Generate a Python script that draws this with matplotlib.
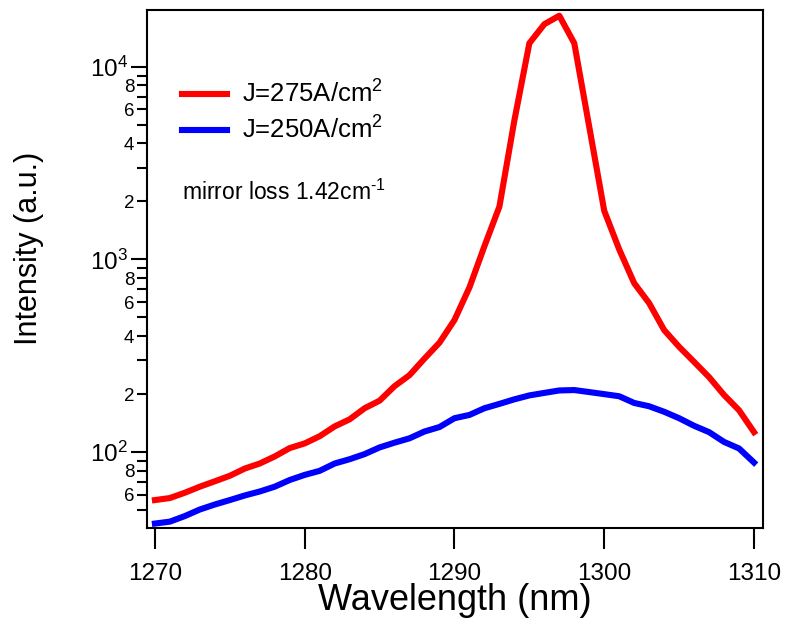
import matplotlib
matplotlib.use("Agg")
import matplotlib.pyplot as plt
import matplotlib.ticker as mticker
import numpy as np

plt.rcParams['font.family'] = ['Liberation Sans', 'DejaVu Sans']
plt.rcParams['mathtext.fontset'] = 'custom'
plt.rcParams['mathtext.rm'] = 'Liberation Sans'
plt.rcParams['mathtext.it'] = 'Liberation Sans:italic'
plt.rcParams['mathtext.bf'] = 'Liberation Sans:bold'

# wavelength grid (nm)
wavelength = list(range(1270, 1311))

# J = 275 A/cm^2 (red)
red_275 = [56.4, 57.8, 61.6, 66.2, 70.6, 75.4, 82.2, 87.3, 95, 105,
           111, 121, 136, 148, 169, 185, 220, 251, 306, 370,
           485, 716, 1172, 1880, 5270, 13240, 16630, 18400, 13240, 4870,
           1788, 1127, 753, 593, 430, 352, 294, 245, 198, 165,
           127]

# J = 250 A/cm^2 (blue)
blue_250 = [42.6, 43.6, 46.6, 50.4, 53.5, 56.4, 59.6, 62.5, 66.2, 71.7,
            76.2, 80, 87.3, 91.9, 97.7, 105.8, 112, 118, 128, 135,
            150, 156, 169, 178, 188, 197, 203, 209, 210, 205,
            200, 195, 180, 173, 162, 150, 137, 127, 113, 104.5,
            88.3]

labels = ['J=275A/cm$^{2}$', 'J=250A/cm$^{2}$']

fig = plt.figure(figsize=(7.89, 6.25), dpi=100)
ax = fig.add_axes([147 / 789, 97 / 625, 616 / 789, 518 / 625])

ax.plot(wavelength, red_275, color='#ff0000', lw=4.4, label=labels[0])
ax.plot(wavelength, blue_250, color='#0000ff', lw=4.4, label=labels[1])

ax.set_yscale('log')
ax.set_xlim(1269.47, 1310.6)
ax.set_ylim(40.4, 19700)

ax.set_xticks([1270, 1280, 1290, 1300, 1310])
ax.tick_params(axis='x', which='major', direction='out', length=15, width=1.5,
               pad=10, labelsize=17.5)


def major_fmt(v, pos):
    e = int(round(np.log10(v)))
    return r'$\mathregular{10^{%d}}$' % e


def minor_fmt(v, pos):
    m = v / 10 ** np.floor(np.log10(v) + 1e-9)
    m = int(round(m))
    return str(m) if m in (2, 4, 6, 8) else ''


ax.yaxis.set_major_locator(mticker.LogLocator(base=10, numticks=10))
ax.yaxis.set_minor_locator(mticker.LogLocator(base=10, subs=np.arange(2, 10), numticks=10))
ax.yaxis.set_major_formatter(mticker.FuncFormatter(major_fmt))
ax.yaxis.set_minor_formatter(mticker.FuncFormatter(minor_fmt))
ax.tick_params(axis='y', which='major', direction='out', length=11.5, width=1.5,
               pad=2, labelsize=17.5)
ax.tick_params(axis='y', which='minor', direction='out', length=7, width=1.5,
               pad=2, labelsize=13.5)

for s in ax.spines.values():
    s.set_linewidth(1.5)

ax.set_xlabel('Wavelength (nm)', fontsize=26, labelpad=-1)
ax.set_ylabel('Intensity (a.u.)', fontsize=22)
ax.yaxis.set_label_coords(-0.167, 0.54)

leg = ax.legend(loc='upper left', bbox_to_anchor=(0.0563, 0.864), frameon=False,
                fontsize=18.5, handlelength=1.78, handletextpad=0.58,
                borderpad=0, borderaxespad=0, labelspacing=0.36)
for h in leg.get_lines():
    h.set_linewidth(4.4)

ax.text(0.0563, 0.649, 'mirror loss 1.42cm$^{\u2010 1}$', transform=ax.transAxes,
        fontsize=16.5, ha='left', va='center')

fig.savefig('out.png', dpi=100)
